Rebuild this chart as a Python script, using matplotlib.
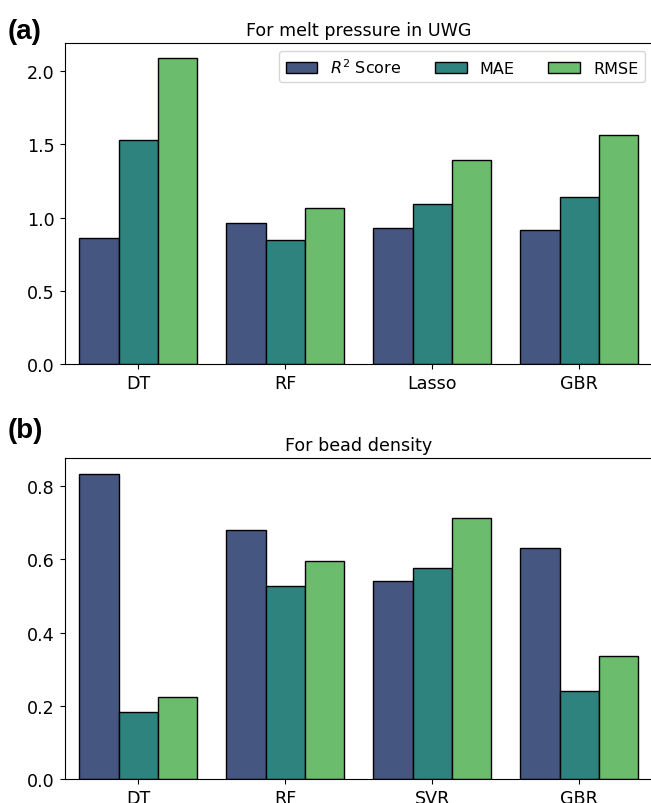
import numpy as np
import pandas as pd
import seaborn as sns
from matplotlib import pyplot as plt
from matplotlib.ticker import MultipleLocator

# model scores for the two targets
metrics = [r'$R^2$ Score', 'MAE', 'RMSE']

models_a = ['DT', 'RF', 'Lasso', 'GBR']
r2_a = [0.859, 0.962, 0.930, 0.916]
mae_a = [1.531, 0.850, 1.096, 1.139]
rmse_a = [2.089, 1.069, 1.394, 1.563]

models_b = ['DT', 'RF', 'SVR', 'GBR']
r2_b = [0.834, 0.681, 0.541, 0.630]
mae_b = [0.182, 0.527, 0.575, 0.239]
rmse_b = [0.223, 0.594, 0.714, 0.335]


def make_frame(models, r2, mae, rmse):
    rows = []
    for name, vals in zip(metrics, [r2, mae, rmse]):
        for m, v in zip(models, vals):
            rows.append({'Model': m, 'Metric': name, 'Value': v})
    return pd.DataFrame(rows)


df_a = make_frame(models_a, r2_a, mae_a, rmse_a)
df_b = make_frame(models_b, r2_b, mae_b, rmse_b)

fs = 12.6
fig = plt.figure(figsize=(6.51, 8.04), dpi=100)
ax1 = fig.add_axes([0.0994, 0.546, 0.9032, 0.3993])
ax2 = fig.add_axes([0.0994, 0.0299, 0.9032, 0.3988])

for ax, df, title, step in [(ax1, df_a, 'For melt pressure in UWG', 0.5),
                            (ax2, df_b, 'For bead density', 0.2)]:
    sns.barplot(data=df, x='Model', y='Value', hue='Metric', ax=ax,
                palette='viridis', edgecolor='black', linewidth=1,
                saturation=0.75, errorbar=None)
    ax.set_xlim(-0.5, 3.5)
    ax.yaxis.set_major_locator(MultipleLocator(step))
    ax.set_title(title, fontsize=fs)
    ax.set_xlabel('')
    ax.set_ylabel('')
    ax.tick_params(labelsize=fs)

ax1.legend(loc='upper right', ncol=3, fontsize=11.5, columnspacing=2.1)
ax2.get_legend().remove()

fig.text(0.012, 0.951, '(a)', fontsize=20, fontweight='bold',
         family='Liberation Sans')
fig.text(0.012, 0.455, '(b)', fontsize=20, fontweight='bold',
         family='Liberation Sans')

plt.savefig('out.png', dpi=100)
